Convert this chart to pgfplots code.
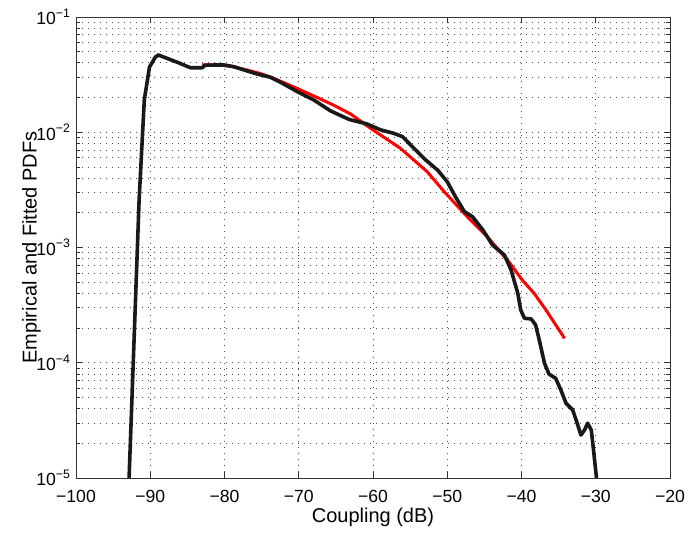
\documentclass[border=0pt]{standalone}
\usepackage{fontspec}
\setmainfont{Liberation Sans}
\usepackage{pgfplots}
\pgfplotsset{compat=1.18}

\begin{document}
\begin{tikzpicture}
\useasboundingbox (-38pt,-27.5pt) rectangle (311pt,239pt);
\begin{axis}[
scale only axis,
width=297pt, height=230.5pt,
xmin=-100, xmax=-20,
ymode=log, ymin=1e-5, ymax=1e-1,
xtick={-100,-90,-80,-70,-60,-50,-40,-30,-20},
xticklabels={−100,−90,−80,−70,−60,−50,−40,−30,−20},
ytick={1e-5,1e-4,1e-3,1e-2,1e-1},
yticklabels={10\textsuperscript{−5},10\textsuperscript{−4},10\textsuperscript{−3},10\textsuperscript{−2},10\textsuperscript{−1}},
ymajorgrids, yminorgrids, xmajorgrids,
grid style={black!70, line width=0.4pt, dash pattern=on 0.4pt off 2.6pt},
minor grid style={black!70, line width=0.4pt, dash pattern=on 0.4pt off 2.6pt},
tick align=inside,
major tick length=3pt,
minor tick length=1.8pt,
axis line style={black!80},
every tick/.style={black!80},
tick label style={font=\fontsize{8.8}{10}\selectfont},
xticklabel style={yshift=-2.5pt},
yticklabel style={xshift=1pt},
xlabel={Coupling (dB)},
ylabel={Empirical and Fitted PDFs},
every axis x label/.style={at={(axis description cs:0.5,0)}, yshift=-19.5pt, anchor=center},
every axis y label/.style={at={(axis description cs:-0.075,0.5)}, rotate=90, anchor=center},
clip=true,
]
% fitted PDF
\addplot[red, line width=1.5pt, line join=round] coordinates {
(-83.0,3.84e-2) (-81.0,3.84e-2) (-78.8,3.71e-2) (-75.2,3.24e-2) (-73.4,2.94e-2)
(-70.7,2.48e-2) (-68.0,2.07e-2) (-65.3,1.72e-2) (-63.0,1.44e-2) (-60.3,1.08e-2)
(-56.3,7.26e-3) (-52.7,4.55e-3) (-50.4,3.05e-3) (-47.3,1.85e-3) (-44.6,1.24e-3)
(-41.5,7.24e-4) (-39.9,5.22e-4) (-38.3,4.01e-4) (-36.7,2.87e-4) (-34.2,1.63e-4)
};
% empirical PDF
\addplot[black!90, line width=1.8pt, line join=round] coordinates {
(-92.9,8e-6) (-92.85,1e-5) (-91.5,2.58e-3) (-90.8,1.91e-2) (-90.1,3.68e-2)
(-89.3,4.50e-2) (-88.9,4.68e-2) (-86.2,4.01e-2) (-84.6,3.63e-2) (-83.0,3.63e-2)
(-82.6,3.82e-2) (-80.1,3.84e-2) (-78.8,3.71e-2) (-75.6,3.20e-2) (-73.8,3.00e-2)
(-72.2,2.66e-2) (-70.2,2.25e-2) (-68.0,1.91e-2) (-65.7,1.53e-2) (-63.2,1.29e-2)
(-60.8,1.18e-2) (-59.0,1.05e-2) (-57.2,9.79e-3) (-56.0,9.14e-3) (-54.5,7.26e-3)
(-52.9,5.74e-3) (-51.3,4.70e-3) (-50.0,3.72e-3) (-48.9,2.76e-3) (-47.7,2.05e-3)
(-46.6,1.85e-3) (-45.2,1.42e-3) (-43.9,1.05e-3) (-42.3,8.61e-4) (-41.4,6.38e-4)
(-40.5,4.01e-4) (-40.1,2.87e-4) (-39.6,2.43e-4) (-38.7,2.40e-4) (-38.1,2.13e-4)
(-37.6,1.57e-4) (-36.9,9.89e-5) (-36.3,7.98e-5) (-35.4,7.33e-5) (-34.7,5.81e-5)
(-34.0,4.45e-5) (-33.1,3.89e-5) (-32.5,2.99e-5) (-32.0,2.36e-5) (-31.5,2.61e-5)
(-31.1,2.99e-5) (-30.6,2.61e-5) (-30.3,1.75e-5) (-29.9,1e-5) (-29.8,8e-6)
};
\end{axis}
\end{tikzpicture}
\end{document}
